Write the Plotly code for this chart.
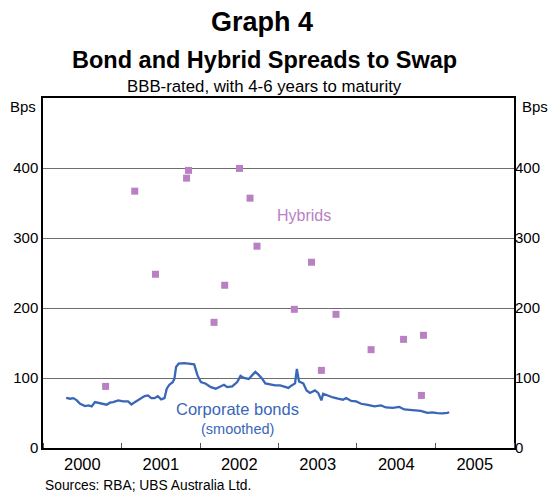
import pandas as pd
import plotly.graph_objects as go

# Corporate bond spreads (BBB, 4-6 yrs, smoothed), decimal year -> bps
bond_t = [2000.295, 2000.345, 2000.387, 2000.430, 2000.472, 2000.535, 2000.576, 2000.619,
          2000.661, 2000.703, 2000.746, 2000.809, 2000.851, 2000.893, 2000.956, 2001.019,
          2001.082, 2001.125, 2001.167, 2001.230, 2001.293, 2001.335, 2001.378, 2001.420,
          2001.461, 2001.504, 2001.546, 2001.575, 2001.609, 2001.651, 2001.673, 2001.694,
          2001.727, 2001.799, 2001.862, 2001.925, 2001.967, 2002.010, 2002.073, 2002.137,
          2002.200, 2002.263, 2002.305, 2002.346, 2002.410, 2002.473, 2002.516, 2002.558,
          2002.621, 2002.662, 2002.705, 2002.747, 2002.789, 2002.832, 2002.895, 2002.958,
          2003.021, 2003.085, 2003.126, 2003.168, 2003.211, 2003.234, 2003.262, 2003.316,
          2003.358, 2003.401, 2003.464, 2003.506, 2003.547, 2003.569, 2003.632, 2003.695,
          2003.759, 2003.822, 2003.863, 2003.927, 2003.990, 2004.053, 2004.138, 2004.223,
          2004.306, 2004.369, 2004.454, 2004.539, 2004.602, 2004.685, 2004.748, 2004.812,
          2004.896, 2004.960, 2005.023, 2005.086, 2005.149, 2005.174]
bond_bps = [71.5, 70.4, 71.2, 68.0, 63.2, 59.8, 60.8, 59.4,
            65.5, 64.7, 63.2, 61.8, 64.7, 65.5, 68.0, 66.5,
            66.5, 62.2, 65.5, 70.4, 74.1, 75.1, 71.2, 71.2,
            74.1, 69.4, 71.2, 84.7, 90.4, 94.1, 99.0, 115.6,
            120.5, 121.3, 120.5, 119.5, 103.7, 94.1, 91.8, 87.0,
            84.7, 88.0, 90.4, 87.0, 88.0, 94.1, 103.0, 100.1,
            98.7, 103.7, 108.7, 104.4, 99.4, 92.3, 90.8, 89.4,
            89.4, 87.3, 85.8, 89.4, 92.3, 113.0, 95.1, 92.3,
            82.3, 78.7, 82.3, 78.7, 68.0, 77.5, 74.4, 72.2,
            70.4, 69.0, 71.5, 67.2, 66.5, 63.2, 61.5, 59.4,
            60.8, 57.9, 57.2, 58.7, 55.1, 54.4, 54.4, 52.9,
            50.1, 50.8, 49.8, 49.4, 50.1, 51.1]

# Hybrid spreads (individual issues), decimal year -> bps
hybrid_t = [2000.796, 2001.167, 2001.432, 2001.828, 2001.853, 2002.178, 2002.314,
            2002.503, 2002.637, 2002.726, 2003.202, 2003.421, 2003.547, 2003.733,
            2004.180, 2004.593, 2004.820, 2004.846]
hybrid_bps = [88.0, 366.9, 248.2, 385.5, 396.6, 179.5, 232.5,
              399.4, 356.9, 288.3, 198.1, 265.4, 110.9, 191.0,
              140.5, 155.2, 75.1, 161.0]

y_ticks = [0, 100, 200, 300, 400]

PURPLE = "#B981C3"
BLUE = "#3A66B8"
FONT = "Liberation Sans, Arial, sans-serif"

# plot-area geometry in pixels (used to place paper-referenced text)
W, H = 552, 493
ML, MR, MT, MB = 43, 35, 98, 45
PW, PH = W - ML - MR, H - MT - MB


def px(x):
    return (x - ML) / PW


def py(y):
    return (H - MB - y) / PH


def to_date(t):
    year = int(t)
    start = pd.Timestamp(year=year, month=1, day=1)
    end = pd.Timestamp(year=year + 1, month=1, day=1)
    return start + (end - start) * (t - year)


fig = go.Figure()
fig.add_trace(go.Scatter(
    x=[to_date(t) for t in bond_t], y=bond_bps, mode="lines",
    line=dict(color=BLUE, width=2.3), showlegend=False, hoverinfo="skip"))
fig.add_trace(go.Scatter(
    x=[to_date(t) for t in hybrid_t], y=hybrid_bps, mode="markers",
    marker=dict(symbol="square", size=7, color=PURPLE), showlegend=False,
    hoverinfo="skip"))
# carrier for the right-hand axis
fig.add_trace(go.Scatter(x=[to_date(2000.5)], y=[None], yaxis="y2",
                         mode="markers", showlegend=False, hoverinfo="skip"))

fig.update_layout(
    width=W, height=H,
    margin=dict(l=ML, r=MR, t=MT, b=MB),
    paper_bgcolor="white", plot_bgcolor="white",
    font=dict(family=FONT, color="black"),
    xaxis=dict(
        type="date", range=["2000-01-01", "2006-01-01"],
        tick0="2000-01-01", dtick="M12", tickformat="%Y",
        ticklabelmode="period", ticks="inside", ticklen=5,
        tickcolor="#555555", tickfont=dict(size=16.5),
        showgrid=False, zeroline=False,
        showline=True, linecolor="black", linewidth=1.5, mirror=True),
    yaxis=dict(
        range=[0, 500], tickvals=y_ticks, ticks="",
        tickfont=dict(size=15), showgrid=True, gridcolor="#6e6e6e",
        gridwidth=1, zeroline=False,
        showline=True, linecolor="black", linewidth=1.5, mirror=True),
    yaxis2=dict(
        range=[0, 500], tickvals=y_ticks, ticks="", side="right",
        overlaying="y", tickfont=dict(size=15), showgrid=False,
        zeroline=False, showline=False),
)

titles = [
    ("<b>Graph 4</b>", 263, 22, 27),
    ("<b>Bond and Hybrid Spreads to Swap</b>", 265.5, 60, 23.5),
    ("BBB-rated, with 4-6 years to maturity", 265.5, 86.5, 16.8),
]
for text, xpix, ypix, size in titles:
    fig.add_annotation(text=text, xref="paper", yref="paper",
                       x=px(xpix), y=py(ypix), xanchor="center",
                       yanchor="middle", showarrow=False,
                       font=dict(size=size))

for xpix in (8, 523):
    fig.add_annotation(text="Bps", xref="paper", yref="paper", x=px(xpix),
                       y=py(96), xanchor="left", yanchor="top",
                       showarrow=False, font=dict(size=15))

fig.add_annotation(text="Hybrids", x=to_date(2003.32), y=332, xref="x", yref="y",
                   showarrow=False, font=dict(size=16, color=PURPLE))
fig.add_annotation(text="Corporate bonds", x=to_date(2002.475), y=56,
                   xref="x", yref="y", showarrow=False,
                   font=dict(size=16.5, color=BLUE))
fig.add_annotation(text="(smoothed)", x=to_date(2002.475), y=27,
                   xref="x", yref="y", showarrow=False,
                   font=dict(size=14.5, color=BLUE))

fig.add_annotation(text="Sources: RBA; UBS Australia Ltd.", xref="paper",
                   yref="paper", x=px(43), y=py(485.5),
                   xanchor="left", yanchor="middle", showarrow=False,
                   font=dict(size=13.8))

fig.write_html("out.html")
